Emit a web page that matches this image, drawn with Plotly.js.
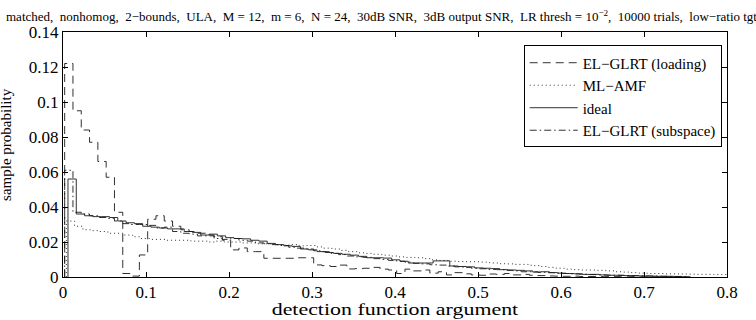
<!DOCTYPE html>
<html><head><meta charset="utf-8">
<script src="https://cdn.plot.ly/plotly-3.0.1.min.js"></script>
<style>html,body{margin:0;padding:0;background:#fff;}#chart{width:756px;height:320px;}</style>
</head><body><div id="chart"></div>
<script>
// Histogram bin width and first bin edge per series
const binWidth = 0.01;
const loadingStart = 0.002;
const amfStart = 0.004;
const idealStart = 0.006;
const subspaceStart = 0.002;

const loadingVals = [0.122,0.095,0.084,0.077,0.066,0.057,0.037,0.002,0.0005,0.0126,
 0.033,0.035,0.032,0.029,0.027,0.026,0.025,0.024,0.023,0.021,
 0.0155,0.0166,0.0145,0.0145,0.0107,0.0107,0.0107,0.0107,0.011,0.011,
 0.0069,0.0065,0.006,0.0068,0.0046,0.0048,0.005,0.0055,0.0045,0.004,
 0.002,0.0045,0.0035,0.004,0.0022,0.003,0.0012,0.0025,0.0018,0.0012,
 0.001,0.0017,0.0015,0.002,0.0012,0.0015,0.001,0.0008,0.0006,0.0005,
 0.0004,0.0005,0.0003,0.0003,0.0002,0.0002,0.0002,0.0001,0.0002,0.0001,
 0.0001,0.0001,0.0001,0.0001];

const amfVals = [0.032,0.029,0.027,0.0265,0.026,0.025,0.025,0.024,0.023,0.022,
 0.0215,0.0215,0.021,0.021,0.021,0.0205,0.0205,0.02,0.0205,0.02,
 0.02,0.0195,0.0195,0.019,0.019,0.0185,0.0182,0.0185,0.0178,0.018,
 0.0172,0.0165,0.016,0.0152,0.0145,0.0138,0.0135,0.013,0.0125,0.012,
 0.0115,0.0112,0.011,0.0105,0.0098,0.0095,0.009,0.0088,0.0087,0.0087,
 0.0085,0.008,0.0076,0.0075,0.0072,0.0072,0.0065,0.006,0.0055,0.005,
 0.0045,0.0042,0.004,0.004,0.0038,0.0035,0.003,0.0028,0.0025,0.0022,
 0.002,0.002,0.0018,0.0018,0.0017,0.0016,0.0015,0.0015,0.0014,0.0014];

const idealVals = [0.056,0.036,0.035,0.0345,0.0345,0.034,0.032,0.031,0.0305,0.029,
 0.0285,0.028,0.0275,0.0275,0.026,0.0255,0.024,0.0245,0.0235,0.0225,
 0.022,0.0218,0.021,0.0205,0.0192,0.0185,0.0178,0.0175,0.016,0.0155,
 0.0145,0.014,0.0135,0.013,0.0125,0.0118,0.011,0.011,0.0108,0.0098,
 0.009,0.008,0.008,0.008,0.0092,0.0092,0.0063,0.006,0.0058,0.0052,
 0.005,0.0048,0.0042,0.004,0.0038,0.0035,0.0028,0.003,0.0025,0.0022,
 0.002,0.0018,0.0015,0.0015,0.0012,0.001,0.001,0.0008,0.0007,0.0006,
 0.0005,0.0004,0.0004,0.0003,0.0002];

const subspaceVals = [0.061,0.037,0.036,0.035,0.034,0.0335,0.032,0.0305,0.03,0.03,
 0.0295,0.028,0.0285,0.026,0.025,0.0245,0.0235,0.0235,0.022,0.0215,
 0.022,0.021,0.0205,0.0195,0.019,0.0185,0.018,0.017,0.0165,0.016,
 0.015,0.0145,0.0135,0.0128,0.012,0.0115,0.0112,0.0105,0.01,0.0095,
 0.009,0.0085,0.0078,0.0075,0.007,0.0068,0.0062,0.0058,0.0055,0.005,
 0.0047,0.0043,0.0042,0.0038,0.0035,0.003,0.003,0.0027,0.0025,0.0022,
 0.002,0.0018,0.0016,0.0014,0.0013,0.0011,0.001,0.0009,0.0008,0.0007,
 0.0006,0.0005,0.0004,0.0003,0.0003];

const seriesNames = ["EL\u2212GLRT (loading)","ML\u2212AMF","ideal","EL\u2212GLRT (subspace)"];
const xTicks = [0,0.1,0.2,0.3,0.4,0.5,0.6,0.7,0.8];
const xTickText = ["0","0.1","0.2","0.3","0.4","0.5","0.6","0.7","0.8"];
const yTicks = [0,0.02,0.04,0.06,0.08,0.1,0.12,0.14];
const yTickText = ["0","0.02","0.04","0.06","0.08","0.1","0.12","0.14"];

function stairs(start, vals){
  const x=[start], y=[0];
  for(let i=0;i<vals.length;i++){ x.push(start+i*binWidth); y.push(vals[i]); }
  x.push(start+vals.length*binWidth); y.push(vals[vals.length-1]);
  return {x,y};
}
const FONT = "Liberation Serif, Times New Roman, serif";
const specs = [
  [loadingStart, loadingVals, "8px,5px"],
  [amfStart, amfVals, "1px,3px"],
  [idealStart, idealVals, "solid"],
  [subspaceStart, subspaceVals, "7px,3px,1.5px,3px"]
];
const traces = specs.map((s,i)=>{
  const d = stairs(s[0], s[1]);
  return {x:d.x, y:d.y, type:'scatter', mode:'lines', name:seriesNames[i],
    line:{shape:'hv', color:'#1a1a1a', width:0.9, dash:s[2]}};
});

const S = '\u00a0 ';
const titleText = ['matched','nonhomog','2\u2212bounds','ULA','M = 12','m = 6','N = 24','30dB SNR','3dB output SNR',
  'LR thresh = 10<sup>\u22122</sup>','10000 trials','low\u2212ratio tgt'].join(','+S);

const layout = {
  width:756, height:320,
  margin:{l:63, r:29, t:32, b:43},
  paper_bgcolor:'#fff', plot_bgcolor:'#fff',
  font:{family:FONT, size:16, color:'#000'},
  showlegend:true,
  legend:{x:0.992, y:0.945, xanchor:'right', yanchor:'top', bgcolor:'#fff',
    bordercolor:'#000', borderwidth:1, font:{family:FONT, size:15, color:'#000'},
    tracegroupgap:0, itemwidth:48},
  xaxis:{range:[0,0.8], tickvals:xTicks, ticktext:xTickText, ticks:'inside', ticklen:5,
    tickcolor:'#000', showline:true, linecolor:'#000', linewidth:1, mirror:'allticks',
    showgrid:false, zeroline:false, tickfont:{family:FONT,size:17,color:'#000'}},
  yaxis:{range:[0,0.14], tickvals:yTicks, ticktext:yTickText, ticks:'inside', ticklen:5,
    tickcolor:'#000', showline:true, linecolor:'#000', linewidth:1, mirror:'allticks',
    showgrid:false, zeroline:false, tickfont:{family:FONT,size:17,color:'#000'}},
  annotations:[
    {text:'sample probability', textangle:-90, xref:'paper', yref:'paper',
     x:-0.087, y:0.54, xanchor:'center', yanchor:'middle', showarrow:false,
     font:{family:FONT,size:15,color:'#000'}},
    {text:'detection function argument', xref:'paper', yref:'paper',
     x:0.5, y:-0.135, xanchor:'center', yanchor:'middle', showarrow:false,
     font:{family:FONT,size:16,color:'#000'}},
    {text:titleText,
     xref:'paper', yref:'paper', x:-0.089, y:1.0, xanchor:'left', yanchor:'bottom', yshift:6,
     showarrow:false, font:{family:FONT,size:13,color:'#000'}}
  ]
};
Plotly.newPlot('chart', traces, layout, {staticPlot:true, displayModeBar:false}).then(()=>{
  // the reference x-label is horizontally stretched
  const anns = document.querySelectorAll('#chart .annotation');
  if(anns.length>1){
    const t = anns[1].querySelector('text');
    if(t){
      const bb = t.getBBox(); const cx = bb.x + bb.width/2;
      const prev = t.getAttribute('transform')||'';
      t.setAttribute('transform', 'translate('+cx+',0) scale(1.37,1) translate('+(-cx)+',0) '+prev);
    }
  }
});
</script></body></html>
